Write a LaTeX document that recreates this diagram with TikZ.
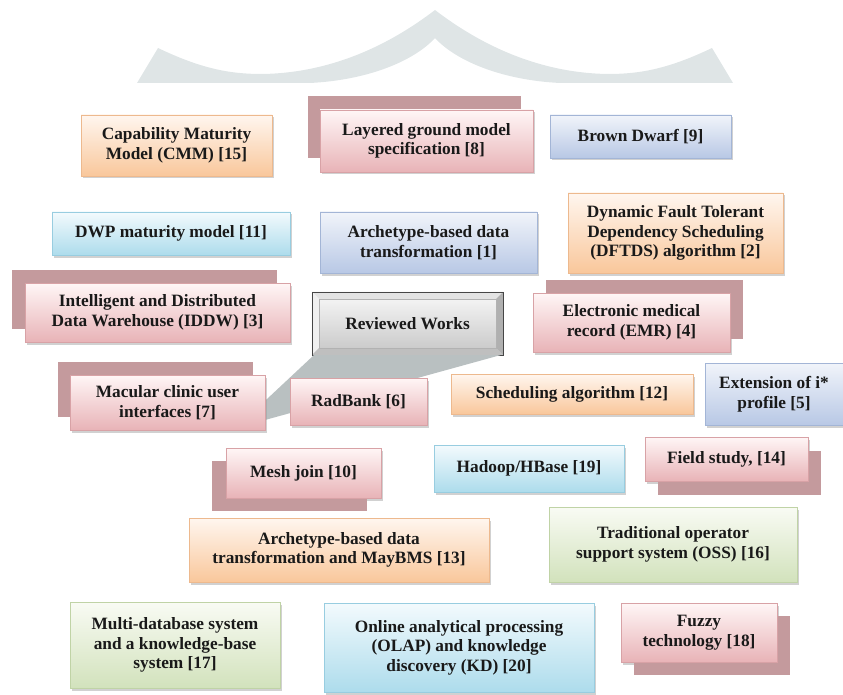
\documentclass[tikz,border=0pt]{standalone}
\usepackage{xcolor}
\usepackage{fontspec}
\setmainfont{Liberation Serif}
\usepackage{tikz}
\usetikzlibrary{shadows,shapes,positioning}

\definecolor{orangetop}{HTML}{FFF6EF}
\definecolor{orangebot}{HTML}{F9C79B}
\definecolor{orangeline}{HTML}{EDB98E}
\definecolor{pinktop}{HTML}{FFF6F6}
\definecolor{pinkbot}{HTML}{E8B3B7}
\definecolor{pinkline}{HTML}{D8A2A6}
\definecolor{roseback}{HTML}{C49A9D}
\definecolor{bluetop}{HTML}{F1F4FA}
\definecolor{bluebot}{HTML}{B8C8E5}
\definecolor{blueline}{HTML}{A3B5D6}
\definecolor{cyantop}{HTML}{F3FAFD}
\definecolor{cyanbot}{HTML}{ADDCEC}
\definecolor{cyanline}{HTML}{98CDE0}
\definecolor{greentop}{HTML}{F9FBF4}
\definecolor{greenbot}{HTML}{D2E2BC}
\definecolor{greenline}{HTML}{C0D3A6}
\definecolor{archgrey}{HTML}{DFE5E6}
\definecolor{wedgegrey}{HTML}{B9C0C1}

\newcommand{\cardfont}{\fontsize{17.3}{19.5}\selectfont\bfseries}

\tikzset{
  card/.style={rectangle, draw, align=center, font=\cardfont, text=black!90, inner sep=1pt,
    drop shadow={shadow xshift=1.5pt, shadow yshift=-2.5pt, fill=black!40, opacity=0.45}},
  orangecard/.style={card, draw=orangeline, top color=orangetop, bottom color=orangebot},
  pinkcard/.style={card, draw=pinkline, top color=pinktop, bottom color=pinkbot},
  bluecard/.style={card, draw=blueline, top color=bluetop, bottom color=bluebot},
  cyancard/.style={card, draw=cyanline, top color=cyantop, bottom color=cyanbot},
  greencard/.style={card, draw=greenline, top color=greentop, bottom color=greenbot},
  back/.style 2 args={general shadow={fill=roseback, draw=none, shadow xshift=#1, shadow yshift=#2}},
  boxsize/.style 2 args={minimum width=#1, minimum height=#2},
  reviewedbox/.style={rectangle, draw=gray!55!black, top color=gray!5, bottom color=gray!45,
    align=center, font=\cardfont, text=black!90, inner sep=1pt}
}

\begin{document}
\begin{tikzpicture}[x=1pt, y=-1pt]
    \useasboundingbox (0,0) rectangle (843,695);

    % roof band at the top
    \fill[archgrey] (137,83) -- (158,48) .. controls (200,68) and (228,74) .. (262,74)
        .. controls (330,73) and (388,46) .. (435,10)
        .. controls (482,46) and (540,73) .. (608,74)
        .. controls (642,74) and (670,68) .. (712,48) -- (733,83) -- (560,83)
        .. controls (500,80) and (455,60) .. (435,38)
        .. controls (415,60) and (370,80) .. (310,83) -- cycle;

    \node[orangecard, boxsize={191pt}{61pt}] (cmm) at (176.5,145.5) {Capability Maturity\\Model (CMM) [15]};
    \node[pinkcard, back={-12pt}{14pt}, boxsize={213pt}{62pt}] (layered) at (426.5,141) {Layered ground model\\specification [8]};
    \node[bluecard, boxsize={181pt}{43pt}] (dwarf) at (640.5,136.5) {Brown Dwarf [9]};

    \node[cyancard, boxsize={238pt}{43pt}] (dwp) at (171,233.5) {DWP maturity model [11]};
    \node[bluecard, boxsize={217pt}{61pt}] (archetype) at (428.5,242.5) {Archetype-based data\\transformation [1]};
    \node[orangecard, boxsize={215pt}{80pt}] (dftds) at (675.5,233) {Dynamic Fault Tolerant\\Dependency Scheduling\\(DFTDS) algorithm [2]};

    \node[pinkcard, back={-13pt}{13pt}, boxsize={265pt}{59pt}] (iddw) at (157.5,312.5) {Intelligent and Distributed\\Data Warehouse (IDDW) [3]};
    \node[pinkcard, back={13pt}{13pt}, boxsize={197pt}{59pt}] (emr) at (631.5,322.5) {Electronic medical\\record (EMR) [4]};

    % centre box with bevel and pointer
    \node[reviewedbox, boxsize={191pt}{63pt}] (reviewed) at (407.5,323.5) {Reviewed Works};
    \fill[gray!22] (reviewed.north west) -- (reviewed.north east) -- ([shift={(-7pt,-7pt)}]reviewed.north east) -- ([shift={(7pt,-7pt)}]reviewed.north west) -- cycle;
    \fill[gray!12] (reviewed.north west) -- (reviewed.south west) -- ([shift={(7pt,7pt)}]reviewed.south west) -- ([shift={(7pt,-7pt)}]reviewed.north west) -- cycle;
    \fill[gray!62] (reviewed.north east) -- (reviewed.south east) -- ([shift={(-7pt,7pt)}]reviewed.south east) -- ([shift={(-7pt,-7pt)}]reviewed.north east) -- cycle;
    \fill[gray!50] (reviewed.south west) -- (reviewed.south east) -- ([shift={(-7pt,7pt)}]reviewed.south east) -- ([shift={(7pt,7pt)}]reviewed.south west) -- cycle;
    \draw[gray!55!black] (reviewed.north west) rectangle (reviewed.south east);
    \draw[gray!60] ([shift={(7pt,-7pt)}]reviewed.north west) rectangle ([shift={(-7pt,7pt)}]reviewed.south east);
    \coordinate (tip) at (236,428);
    \fill[wedgegrey] ([xshift=2pt]reviewed.south west) -- ([xshift=-3pt]reviewed.south east) -- (tip) -- cycle;

    \node[pinkcard, back={-12pt}{13pt}, boxsize={195pt}{55pt}] (macular) at (167.5,402.5) {Macular clinic user\\interfaces [7]};
    \node[pinkcard, boxsize={137pt}{47pt}] (radbank) at (358.5,401.5) {RadBank [6]};
    \node[orangecard, boxsize={242pt}{40pt}] (scheduling) at (572,394) {Scheduling algorithm [12]};
    \node[bluecard, boxsize={138pt}{62pt}] (istar) at (774,394) {Extension of i*\\profile [5]};

    \node[pinkcard, back={-14pt}{-13pt}, boxsize={155pt}{50pt}] (meshjoin) at (303.5,473) {Mesh join [10]};
    \node[cyancard, boxsize={190pt}{47pt}] (hadoop) at (529,468.5) {Hadoop/HBase [19]};
    \node[pinkcard, back={13pt}{-14pt}, boxsize={163pt}{44pt}] (fieldstudy) at (726.5,459) {Field study, [14]};

    \node[orangecard, boxsize={300pt}{64pt}] (maybms) at (339,550) {Archetype-based data\\transformation and MayBMS [13]};
    \node[greencard, boxsize={248pt}{75pt}] (oss) at (673,544.5) {Traditional operator\\support system (OSS) [16]};

    \node[greencard, boxsize={210pt}{86pt}] (multidb) at (175,645) {Multi-database system\\and a knowledge-base\\system [17]};
    \node[cyancard, boxsize={270pt}{89pt}] (olap) at (459,647.5) {Online analytical processing\\(OLAP) and knowledge\\discovery (KD) [20]};
    \node[pinkcard, back={13pt}{-13pt}, boxsize={156pt}{59pt}] (fuzzy) at (699,632.5) {Fuzzy\\technology [18]};
\end{tikzpicture}
\end{document}
